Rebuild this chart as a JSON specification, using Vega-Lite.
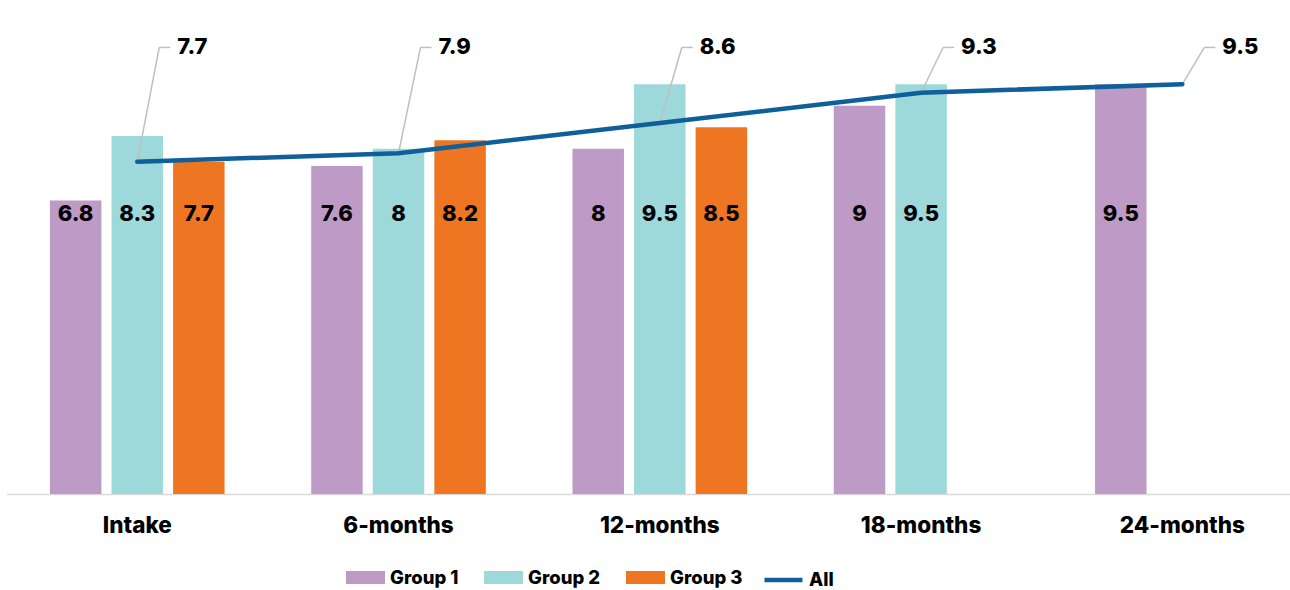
{
  "$schema": "https://vega.github.io/schema/vega-lite/v6.json",
  "width": 1284,
  "height": 494,
  "autosize": {"type": "none"},
  "padding": {"left": 6, "top": 0, "right": 0, "bottom": 96},
  "config": {"view": {"stroke": null}, "font": "Inter"},
  "datasets": {
    "bars": [
      {"time": "Intake", "group": "Group 1", "value": 6.8},
      {"time": "Intake", "group": "Group 2", "value": 8.3},
      {"time": "Intake", "group": "Group 3", "value": 7.7},
      {"time": "6-months", "group": "Group 1", "value": 7.6},
      {"time": "6-months", "group": "Group 2", "value": 8},
      {"time": "6-months", "group": "Group 3", "value": 8.2},
      {"time": "12-months", "group": "Group 1", "value": 8},
      {"time": "12-months", "group": "Group 2", "value": 9.5},
      {"time": "12-months", "group": "Group 3", "value": 8.5},
      {"time": "18-months", "group": "Group 1", "value": 9},
      {"time": "18-months", "group": "Group 2", "value": 9.5},
      {"time": "24-months", "group": "Group 1", "value": 9.5}
    ],
    "all": [
      {"time": "Intake", "All": 7.7},
      {"time": "6-months", "All": 7.9},
      {"time": "12-months", "All": 8.6},
      {"time": "18-months", "All": 9.3},
      {"time": "24-months", "All": 9.5}
    ]
  },
  "encoding": {
    "x": {
      "field": "time",
      "type": "nominal",
      "scale": {
        "domain": ["Intake", "6-months", "12-months", "18-months", "24-months"],
        "range": [0.6, 1307],
        "paddingInner": 0.293,
        "paddingOuter": 0.1465
      },
      "axis": {
        "title": null,
        "labelAngle": 0,
        "ticks": false,
        "domainColor": "#D9D9D9",
        "domainWidth": 1.5,
        "labelFont": "Inter",
        "labelFontSize": 22.5,
        "labelFontWeight": 800,
        "labelColor": "#000000",
        "labelBaseline": "middle",
        "labelPadding": 31
      }
    }
  },
  "layer": [
    {
      "data": {"name": "bars"},
      "mark": {"type": "bar"},
      "encoding": {
        "xOffset": {
          "field": "group",
          "type": "nominal",
          "scale": {"domain": ["Group 1", "Group 2", "Group 3"], "paddingInner": 0.164, "paddingOuter": 0.082}
        },
        "y": {"field": "value", "type": "quantitative", "scale": {"domain": [0, 11.45], "nice": false}, "axis": null},
        "fill": {
          "field": "group",
          "type": "nominal",
          "scale": {"domain": ["Group 1", "Group 2", "Group 3"], "range": ["#BE9AC6", "#9DD9DA", "#EE7623"]},
          "legend": {
            "title": null,
            "orient": "none",
            "legendX": 340,
            "legendY": 558,
            "direction": "horizontal",
            "padding": 0,
            "symbolType": "M-1,-0.333H1V0.333H-1Z",
            "symbolSize": 1521,
            "symbolStrokeWidth": 0,
            "symbolOpacity": 1,
            "labelFont": "Inter",
            "labelFontSize": 18.5,
            "labelFontWeight": 800,
            "labelColor": "#000000",
            "labelOffset": 5,
            "columnPadding": 25
          }
        }
      }
    },
    {
      "data": {"name": "bars"},
      "mark": {"type": "text", "font": "Inter", "fontSize": 22, "fontWeight": 800, "color": "#000000", "baseline": "middle", "align": "center"},
      "encoding": {
        "xOffset": {"field": "group", "type": "nominal"},
        "y": {"datum": 6.5, "type": "quantitative", "axis": null},
        "text": {"field": "value", "type": "quantitative"}
      }
    },
    {
      "data": {"name": "all"},
      "mark": {"type": "rule", "color": "#BFBFBF", "strokeWidth": 1.5, "x2Offset": 22},
      "encoding": {
        "x2": {"field": "time"},
        "y": {"field": "All", "type": "quantitative", "axis": null},
        "y2": {"datum": 10.35}
      }
    },
    {
      "data": {"name": "all"},
      "mark": {"type": "rule", "color": "#BFBFBF", "strokeWidth": 1.5, "xOffset": 22, "x2Offset": 33},
      "encoding": {
        "x2": {"field": "time"},
        "y": {"datum": 10.35, "type": "quantitative", "axis": null}
      }
    },
    {
      "data": {"name": "all"},
      "mark": {"type": "line", "strokeWidth": 4.5, "strokeCap": "round", "strokeJoin": "round"},
      "encoding": {
        "y": {"field": "All", "type": "quantitative", "axis": null},
        "stroke": {
          "datum": "All",
          "type": "nominal",
          "scale": {"domain": ["All"], "range": ["#0F5F9B"]},
          "legend": {
            "title": null,
            "orient": "none",
            "legendX": 756,
            "legendY": 558.5,
            "direction": "horizontal",
            "padding": 0,
            "symbolType": "stroke",
            "symbolSize": 1444,
            "symbolStrokeWidth": 4.5,
            "labelFont": "Inter",
            "labelFontSize": 18.5,
            "labelFontWeight": 800,
            "labelColor": "#000000",
            "labelOffset": 4
          }
        }
      }
    },
    {
      "data": {"name": "all"},
      "mark": {"type": "text", "font": "Inter", "fontSize": 22, "fontWeight": 800, "color": "#000000", "baseline": "middle", "align": "left", "dx": 40},
      "encoding": {
        "y": {"datum": 10.35, "type": "quantitative", "axis": null},
        "text": {"field": "All", "type": "quantitative"}
      }
    }
  ]
}
